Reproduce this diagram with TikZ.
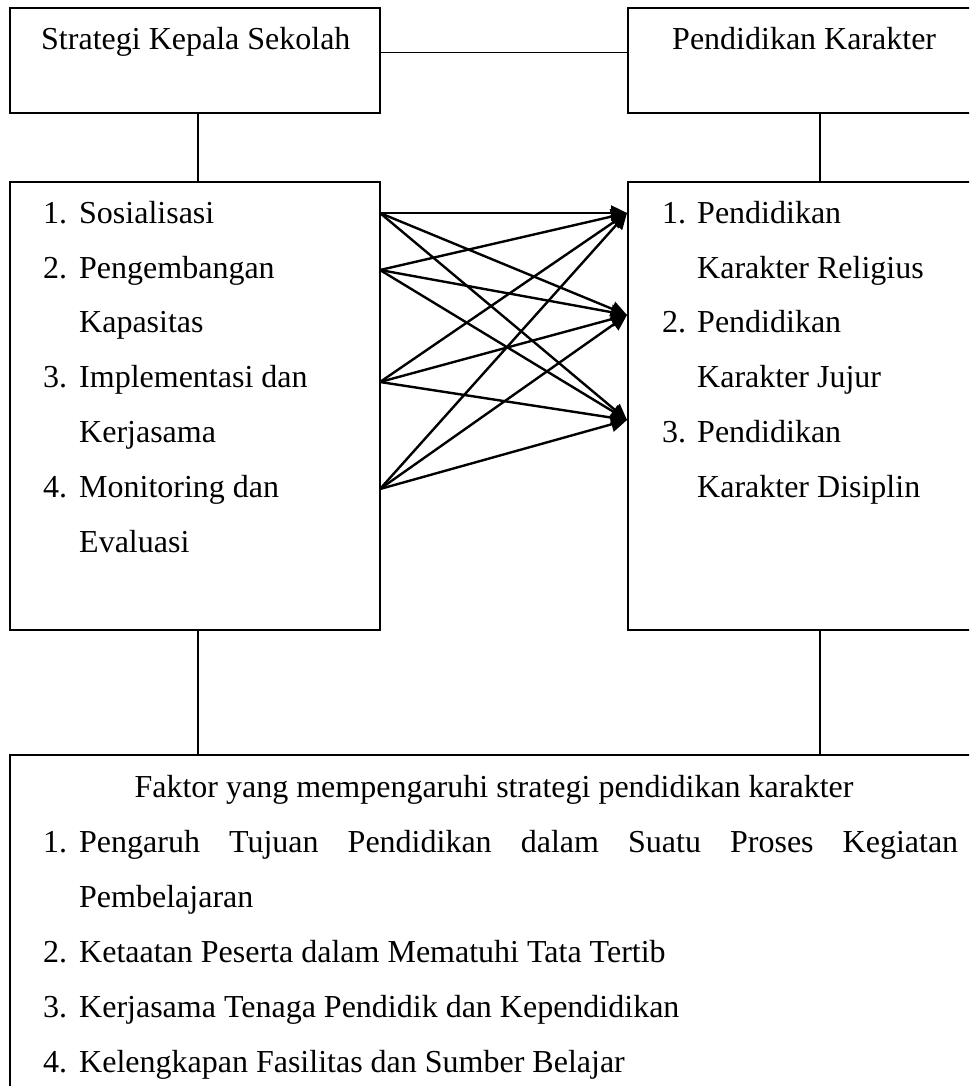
\documentclass[tikz,border=0pt]{standalone}
\usepackage{fontspec}
\setmainfont{Liberation Serif}
\usetikzlibrary{arrows.meta}
\begin{document}
\begin{tikzpicture}[x=1pt,y=-1pt,
  box/.style={draw,line width=2.5pt,rectangle,inner sep=0pt,outer sep=0pt,anchor=north west},
  link/.style={line width=1.6pt},
  arr/.style={line width=2.4pt,-{Triangle[length=16pt,width=15pt]}},
  txt/.style={anchor=base west,inner sep=0pt,font=\fontsize{32}{38}\selectfont}]
\useasboundingbox (0,0) rectangle (969,1086);
\clip (0,0) rectangle (969,1086);
% boxes
\node[box,minimum width=370pt,minimum height=105pt] (sks) at (10,8) {};
\node[box,minimum width=350pt,minimum height=105pt] (pk) at (628,8) {};
\node[box,minimum width=370pt,minimum height=448pt] (lst) at (10,182) {};
\node[box,minimum width=350pt,minimum height=448pt] (rlst) at (628,182) {};
\node[box,minimum width=970pt,minimum height=400pt] (fak) at (10,755) {};
% connectors between boxes
\draw[link] ([yshift=8pt]sks.east) -- ([yshift=8pt]pk.west);
\draw[link] ([xshift=3pt]sks.south) -- ([xshift=3pt]lst.north);
\draw[link] ([xshift=17pt]pk.south) -- ([xshift=17pt]rlst.north);
\draw[link] ([xshift=3pt]lst.south) -- ([xshift=3pt]lst.south |- fak.north);
\draw[link] ([xshift=17pt]rlst.south) -- ([xshift=17pt]rlst.south |- fak.north);
% titles
\node[txt] (tsks) at (41,50) {Strategi Kepala Sekolah};
\node[txt] (tpk) at (672,50) {Pendidikan Karakter};
% left list
\node[txt] (l1n) at (43,223) {1.};
\node[txt] (l1) at (79,223) {Sosialisasi};
\node[txt] (l2n) at (43,278) {2.};
\node[txt] (l2) at (79,278) {Pengembangan};
\node[txt] (l2b) at (79,332) {Kapasitas};
\node[txt] (l3n) at (43,387) {3.};
\node[txt] (l3) at (79,387) {Implementasi dan};
\node[txt] (l3b) at (79,442) {Kerjasama};
\node[txt] (l4n) at (43,497) {4.};
\node[txt] (l4) at (79,497) {Monitoring dan};
\node[txt] (l4b) at (79,552) {Evaluasi};
% right list
\node[txt] (r1n) at (662,223) {1.};
\node[txt] (r1) at (697,223) {Pendidikan};
\node[txt] (r1b) at (697,278) {Karakter Religius};
\node[txt] (r2n) at (662,332) {2.};
\node[txt] (r2) at (697,332) {Pendidikan};
\node[txt] (r2b) at (697,387) {Karakter Jujur};
\node[txt] (r3n) at (662,442) {3.};
\node[txt] (r3) at (697,442) {Pendidikan};
\node[txt] (r3b) at (697,497) {Karakter Disiplin};
% arrows
\coordinate (s1) at (380,213);
\coordinate (s2) at (380,270);
\coordinate (s3) at (380,382);
\coordinate (s4) at (380,489);
\coordinate (t1) at (627,213);
\coordinate (t2) at (627,315);
\coordinate (t3) at (627,420);
\foreach \s in {s1,s2,s3,s4}{
  \foreach \t in {t1,t2,t3}{
    \draw[arr] (\s) -- (\t);
  }
}
% bottom box text
\node[txt,anchor=base] (ftitle) at (494,797) {Faktor yang mempengaruhi strategi pendidikan karakter};
\node[txt] (f1n) at (43,852) {1.};
\node[txt] (f1) at (79,852) {\hbox to 879pt{Pengaruh\hfill Tujuan\hfill Pendidikan\hfill dalam\hfill Suatu\hfill Proses\hfill Kegiatan}};
\node[txt] (f1b) at (79,907) {Pembelajaran};
\node[txt] (f2n) at (43,962) {2.};
\node[txt] (f2) at (79,962) {Ketaatan Peserta dalam Mematuhi Tata Tertib};
\node[txt] (f3n) at (43,1017) {3.};
\node[txt] (f3) at (79,1017) {Kerjasama Tenaga Pendidik dan Kependidikan};
\node[txt] (f4n) at (43,1072) {4.};
\node[txt] (f4) at (79,1072) {Kelengkapan Fasilitas dan Sumber Belajar};
\end{tikzpicture}
\end{document}
